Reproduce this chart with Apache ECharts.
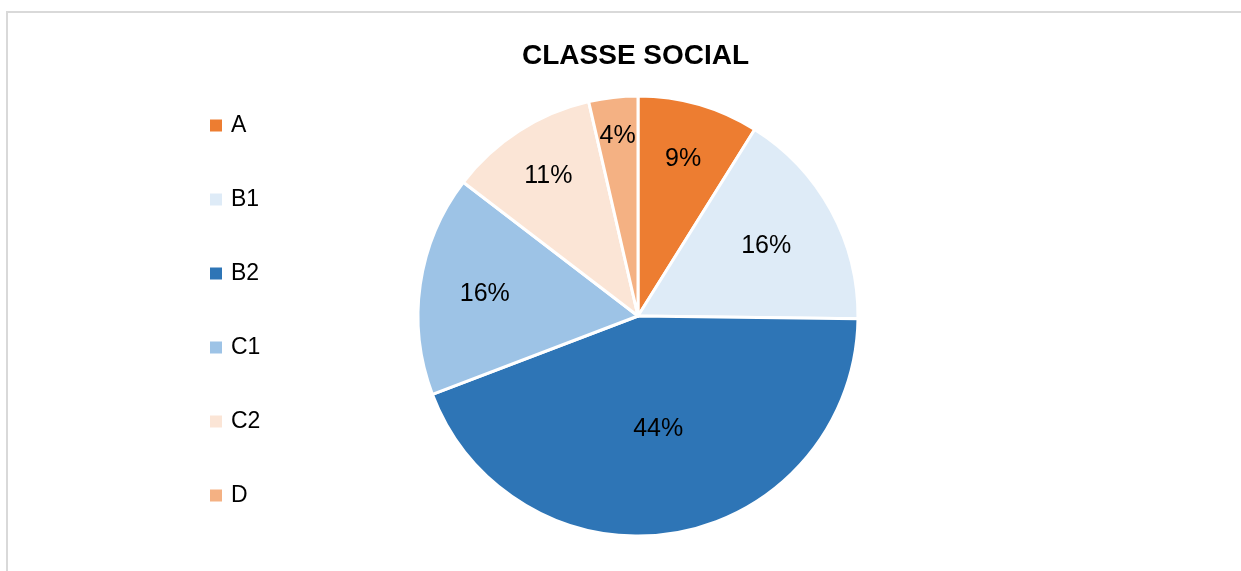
<!DOCTYPE html>
<html>
<head>
<meta charset="utf-8">
<script src="https://cdn.jsdelivr.net/npm/echarts@6/dist/echarts.min.js"></script>
<style>
  html, body { margin: 0; padding: 0; background: #fff; }
  #frame {
    position: absolute; left: 6px; top: 11px; width: 1300px; height: 600px;
    border-left: 2px solid #d9d9d9; border-top: 2px solid #d9d9d9;
  }
  #chart { position: absolute; left: 0; top: 0; width: 1241px; height: 571px; }
</style>
</head>
<body>
<div id="frame"></div>
<div id="chart"></div>
<script>
// classes and their share
const categories = ["A", "B1", "B2", "C1", "C2", "D"];
const shares = [8.9, 16.3, 44.0, 16.2, 11.0, 3.6];
const colors = ["#ED7D31", "#DEEBF7", "#2E75B6", "#9DC3E6", "#FBE5D6", "#F4B183"];

// where each label sits, as a fraction of the radius (Excel "best fit")
const labelRadius = [0.73, 0.65, 0.51, 0.69, 0.74, 0.81];

const R = 220;
const total = shares.reduce((a, b) => a + b, 0);
const midAngles = [];
let acc = 0;
shares.forEach((v) => {
  midAngles.push(((acc + v / 2) / total) * Math.PI * 2);
  acc += v;
});

const chart = echarts.init(document.getElementById("chart"));

const option = {
  animation: false,
  title: {
    text: "CLASSE SOCIAL",
    left: 517,
    top: 37,
    textStyle: {
      fontFamily: "Liberation Sans",
      fontWeight: "bold",
      fontSize: 28,
      color: "#000",
    },
  },
  legend: {
    orient: "vertical",
    left: 208,
    top: 114,
    padding: 0,
    itemWidth: 14,
    itemHeight: 14,
    itemGap: 51,
    icon: "rect",
    data: categories,
    textStyle: {
      fontFamily: "Liberation Sans",
      fontSize: 23,
      lineHeight: 23,
      color: "#000",
      padding: [0, 0, 0, 3],
    },
  },
  color: colors,
  series: [
    {
      type: "pie",
      center: [638, 316],
      radius: R,
      startAngle: 90,
      clockwise: true,
      percentPrecision: 0,
      itemStyle: { borderColor: "#fff", borderWidth: 3 },
      label: {
        position: "inside",
        formatter: "{d}%",
        fontFamily: "Liberation Sans",
        fontSize: 25,
        color: "#000",
      },
      labelLine: { show: false },
      emphasis: { disabled: true },
      labelLayout: (params) => {
        const i = params.dataIndex;
        const k = labelRadius[i] - 0.5;
        return {
          dx: k * R * Math.sin(midAngles[i]),
          dy: -k * R * Math.cos(midAngles[i]),
        };
      },
      data: categories.map((name, i) => ({ name: name, value: shares[i] })),
    },
  ],
};

chart.setOption(option);
</script>
</body>
</html>
